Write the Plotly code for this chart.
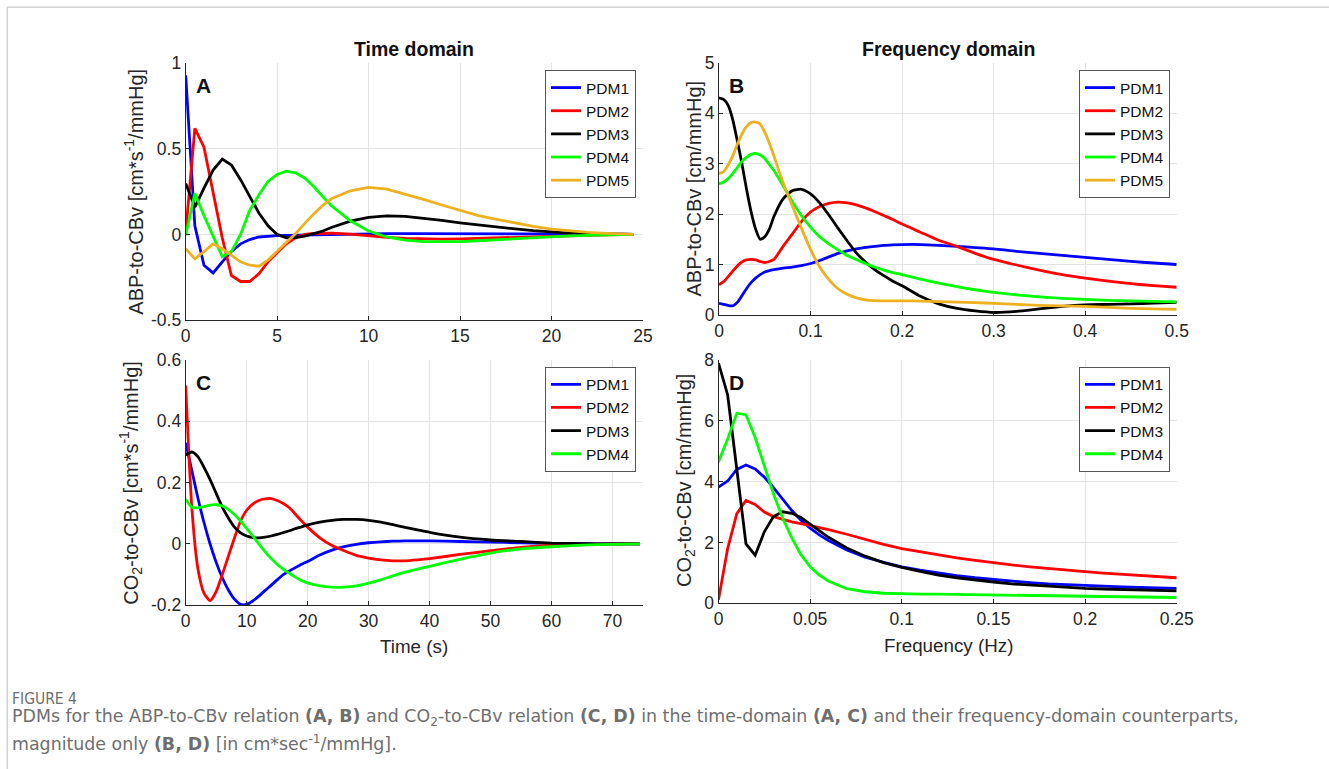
import plotly.graph_objects as go

W, H = 1329, 769

# ---------------- data ----------------
t_A = [0, 0.5, 1, 1.5, 2, 2.5, 3, 3.5, 4, 4.5, 5, 5.5, 6, 6.5, 7, 7.5, 8,
       9, 10, 11, 12, 13, 14, 15, 16, 17, 18, 19, 20, 21, 22, 23, 24, 24.5]
A_PDM1 = [0.93, 0.05, -0.18, -0.225, -0.16, -0.1, -0.055, -0.03, -0.015, -0.01, -0.007, -0.005, -0.004, -0.002, 0.0, 0.001, 0.002,
          0.003, 0.004, 0.005, 0.005, 0.005, 0.005, 0.005, 0.005, 0.004, 0.004, 0.003, 0.003, 0.002, 0.002, 0.001, 0.001, 0.0]
A_PDM2 = [0.01, 0.62, 0.51, 0.24, -0.02, -0.24, -0.275, -0.275, -0.23, -0.16, -0.11, -0.055, -0.02, 0.0, 0.006, 0.008, 0.008,
          0.002, -0.008, -0.017, -0.023, -0.026, -0.027, -0.026, -0.023, -0.019, -0.015, -0.011, -0.008, -0.005, -0.003, -0.002, -0.001, 0.0]
A_PDM3 = [0.298, 0.16, 0.27, 0.376, 0.44, 0.405, 0.32, 0.22, 0.125, 0.05, 0.0, -0.02, -0.018, -0.01, 0.003, 0.02, 0.042,
          0.078, 0.1, 0.108, 0.105, 0.095, 0.082, 0.068, 0.055, 0.043, 0.032, 0.022, 0.014, 0.008, 0.005, 0.002, 0.001, 0.0]
A_PDM4 = [-0.005, 0.24, 0.11, -0.01, -0.13, -0.1, 0.0, 0.14, 0.23, 0.31, 0.35, 0.37, 0.36, 0.33, 0.28, 0.22, 0.165,
          0.08, 0.02, -0.015, -0.033, -0.042, -0.044, -0.042, -0.037, -0.031, -0.024, -0.018, -0.012, -0.008, -0.005, -0.003, -0.001, 0.0]
A_PDM5 = [-0.084, -0.143, -0.1, -0.055, -0.084, -0.12, -0.16, -0.18, -0.186, -0.15, -0.1, -0.045, 0.004, 0.063, 0.12, 0.17, 0.21,
          0.255, 0.275, 0.265, 0.237, 0.205, 0.172, 0.14, 0.11, 0.088, 0.067, 0.047, 0.031, 0.02, 0.012, 0.006, 0.002, 0.0]

f_B = [0, 0.005, 0.01, 0.015, 0.02, 0.025, 0.03, 0.035, 0.04, 0.045, 0.05, 0.055, 0.06,
       0.07, 0.08, 0.09, 0.1, 0.11, 0.12, 0.13, 0.14, 0.15, 0.16, 0.17, 0.18, 0.19, 0.2,
       0.22, 0.24, 0.26, 0.28, 0.3, 0.325, 0.35, 0.375, 0.4, 0.425, 0.45, 0.475, 0.5]
B_PDM1 = [0.23, 0.21, 0.19, 0.18, 0.25, 0.38, 0.52, 0.64, 0.73, 0.8, 0.85, 0.88, 0.9,
          0.93, 0.95, 0.98, 1.02, 1.08, 1.15, 1.22, 1.27, 1.31, 1.34, 1.36, 1.38, 1.39, 1.395,
          1.395, 1.38, 1.36, 1.335, 1.31, 1.26, 1.22, 1.18, 1.14, 1.1, 1.06, 1.03, 1.0]
B_PDM2 = [0.6, 0.66, 0.76, 0.87, 0.97, 1.05, 1.09, 1.1, 1.09, 1.06, 1.04, 1.06, 1.1,
          1.36, 1.6, 1.85, 2.04, 2.15, 2.21, 2.235, 2.22, 2.18, 2.12, 2.05, 1.97, 1.89, 1.8,
          1.64, 1.48, 1.36, 1.22, 1.1, 0.99, 0.89, 0.8, 0.73, 0.67, 0.62, 0.58, 0.55]
B_PDM3 = [4.3, 4.27, 4.15, 3.87, 3.45, 3.0, 2.5, 2.05, 1.7, 1.5, 1.55, 1.7, 1.95,
          2.3, 2.46, 2.49, 2.4, 2.22, 1.98, 1.72, 1.47, 1.23, 1.05, 0.9, 0.78, 0.67, 0.58,
          0.37, 0.22, 0.13, 0.08, 0.05, 0.07, 0.12, 0.17, 0.2, 0.21, 0.22, 0.235, 0.25]
B_PDM4 = [2.6, 2.63, 2.7, 2.8, 2.92, 3.04, 3.12, 3.18, 3.2, 3.17, 3.1, 2.98, 2.86,
          2.56, 2.25, 1.97, 1.74, 1.55, 1.41, 1.29, 1.18, 1.1, 1.02, 0.95, 0.89, 0.84, 0.8,
          0.71, 0.63, 0.56, 0.5, 0.45, 0.4, 0.36, 0.33, 0.31, 0.29, 0.28, 0.27, 0.26]
B_PDM5 = [2.8, 2.84, 2.97, 3.15, 3.38, 3.58, 3.73, 3.81, 3.82, 3.78, 3.62, 3.4, 3.15,
          2.62, 2.17, 1.72, 1.3, 0.95, 0.7, 0.52, 0.41, 0.34, 0.3, 0.285, 0.28, 0.28, 0.28,
          0.275, 0.265, 0.255, 0.245, 0.23, 0.21, 0.19, 0.18, 0.17, 0.15, 0.13, 0.12, 0.11]

t_C = [0, 1, 2, 3, 4, 5, 6, 7, 8, 9, 10, 11, 12, 13, 14, 15, 16, 17, 18, 19, 20,
       22, 24, 26, 28, 30, 32, 34, 36, 38, 40, 45, 50, 55, 60, 65, 70, 74.5]
C_PDM1 = [0.33, 0.24, 0.15, 0.07, 0.0, -0.06, -0.11, -0.15, -0.18, -0.197, -0.197, -0.186, -0.17, -0.152, -0.135, -0.117, -0.1, -0.088, -0.077, -0.066, -0.057,
          -0.036, -0.02, -0.009, -0.001, 0.004, 0.007, 0.009, 0.01, 0.01, 0.01, 0.008, 0.006, 0.004, 0.002, 0.001, 0.0, 0.0]
C_PDM2 = [0.517, 0.12, -0.08, -0.16, -0.185, -0.155, -0.1, -0.04, 0.02, 0.075, 0.11, 0.13, 0.142, 0.147, 0.148, 0.142, 0.132, 0.118, 0.097, 0.075, 0.055,
          0.02, -0.005, -0.022, -0.037, -0.046, -0.052, -0.055, -0.055, -0.052, -0.048, -0.034, -0.022, -0.011, -0.004, -0.001, 0.0, 0.0]
C_PDM3 = [0.29, 0.3, 0.285, 0.25, 0.21, 0.165, 0.12, 0.085, 0.055, 0.036, 0.026, 0.021, 0.02, 0.022, 0.026, 0.031, 0.037, 0.043, 0.05, 0.056, 0.062,
          0.071, 0.077, 0.08, 0.08, 0.077, 0.071, 0.063, 0.054, 0.046, 0.038, 0.022, 0.013, 0.008, 0.003, 0.001, 0.0, 0.0]
C_PDM4 = [0.146, 0.12, 0.118, 0.122, 0.127, 0.128, 0.124, 0.113, 0.096, 0.075, 0.051, 0.026, 0.0, -0.025, -0.047, -0.066, -0.082, -0.096, -0.108, -0.119, -0.127,
          -0.137, -0.141, -0.141, -0.137, -0.128, -0.117, -0.104, -0.092, -0.082, -0.073, -0.05, -0.03, -0.016, -0.009, -0.004, -0.001, 0.0]

f_D = [0, 0.005, 0.01, 0.015, 0.02, 0.025, 0.03, 0.035, 0.04, 0.045, 0.05, 0.055, 0.06,
       0.07, 0.08, 0.09, 0.1, 0.11, 0.12, 0.13, 0.14, 0.15, 0.16, 0.17, 0.18, 0.19, 0.2,
       0.21, 0.22, 0.23, 0.24, 0.25]
D_PDM1 = [3.82, 4.02, 4.4, 4.55, 4.42, 4.15, 3.8, 3.42, 3.05, 2.73, 2.47, 2.25, 2.06,
          1.75, 1.52, 1.35, 1.2, 1.09, 0.99, 0.91, 0.84, 0.78, 0.72, 0.68, 0.64, 0.61, 0.58,
          0.56, 0.54, 0.52, 0.505, 0.49]
D_PDM2 = [0.12, 1.8, 2.95, 3.38, 3.25, 3.0, 2.85, 2.76, 2.68, 2.62, 2.56, 2.48, 2.42,
          2.27, 2.1, 1.94, 1.8, 1.69, 1.59, 1.49, 1.41, 1.33, 1.26, 1.2, 1.14, 1.09, 1.04,
          0.99, 0.95, 0.91, 0.87, 0.84]
D_PDM3 = [7.9, 6.85, 4.4, 1.95, 1.58, 2.35, 2.85, 3.01, 2.96, 2.82, 2.6, 2.38, 2.17,
          1.82, 1.55, 1.34, 1.18, 1.05, 0.93, 0.84, 0.76, 0.7, 0.64, 0.6, 0.56, 0.52, 0.49,
          0.47, 0.45, 0.43, 0.42, 0.41]
D_PDM4 = [4.65, 5.4, 6.25, 6.2, 5.45, 4.5, 3.6, 2.8, 2.15, 1.6, 1.2, 0.93, 0.73,
          0.48, 0.38, 0.33, 0.31, 0.3, 0.3, 0.29, 0.28, 0.27, 0.26, 0.25, 0.24, 0.23, 0.22,
          0.21, 0.21, 0.2, 0.19, 0.19]

names = ["PDM1", "PDM2", "PDM3", "PDM4", "PDM5"]
colors = ["#0000ff", "#ff0000", "#000000", "#00ff00", "#edb120"]

A_ticks = [-0.5, 0, 0.5, 1]
A_ticktext = ["-0.5", "0", "0.5", "1"]
C_ticks = [-0.2, 0, 0.2, 0.4, 0.6]
C_ticktext = ["-0.2", "0", "0.2", "0.4", "0.6"]

# ---------------- helpers ----------------
def pxx(x):
    return x / W

def pxy(y):
    return 1 - y / H

FONT = "Liberation Sans, Arial, Helvetica, sans-serif"
AXC = "#262626"
GRID = "#e3e3e3"

fig = go.Figure()

panels = [
    ("x", "y", "legend", t_A, [A_PDM1, A_PDM2, A_PDM3, A_PDM4, A_PDM5], "linear"),
    ("x2", "y2", "legend2", f_B, [B_PDM1, B_PDM2, B_PDM3, B_PDM4, B_PDM5], "spline"),
    ("x3", "y3", "legend3", t_C, [C_PDM1, C_PDM2, C_PDM3, C_PDM4], "spline"),
    ("x4", "y4", "legend4", f_D, [D_PDM1, D_PDM2, D_PDM3, D_PDM4], "linear"),
]
for xa, ya, lg, xs, series, shape in panels:
    for i, ys in enumerate(series):
        fig.add_trace(go.Scatter(
            x=xs, y=ys, mode="lines", name=names[i],
            line=dict(color=colors[i], width=2.8, shape=shape, smoothing=0.6),
            xaxis=xa, yaxis=ya, legend=lg,
        ))

TICKFONT = dict(family=FONT, size=17.5, color=AXC)

def xaxis(domain, rng, tickvals, ticktext=None):
    d = dict(domain=[pxx(domain[0]), pxx(domain[1])], range=rng,
             tickvals=tickvals, showgrid=True, gridcolor=GRID, gridwidth=1,
             zeroline=False, showline=True, linecolor=AXC, linewidth=1,
             ticks="inside", ticklen=4, tickcolor=AXC, tickfont=TICKFONT)
    if ticktext:
        d["ticktext"] = ticktext
    return d

def yaxis(domain, rng, tickvals, ticktext=None):
    d = dict(domain=[pxy(domain[1]), pxy(domain[0])], range=rng,
             tickvals=tickvals, showgrid=True, gridcolor=GRID, gridwidth=1,
             zeroline=False, showline=True, linecolor=AXC, linewidth=1,
             ticks="inside", ticklen=4, tickcolor=AXC, tickfont=TICKFONT)
    if ticktext:
        d["ticktext"] = ticktext
    return d

A_X = (185.7, 643.0); A_Y = (63.3, 320.0)
B_X = (719.0, 1176.7); B_Y = (62.5, 315.0)
C_X = (185.7, 643.0); C_Y = (360.0, 605.3)
D_X = (718.5, 1176.7); D_Y = (360.0, 603.3)

layout = dict(
    width=W, height=H, margin=dict(l=0, r=0, t=0, b=0, autoexpand=False),
    paper_bgcolor="white", plot_bgcolor="white",
    font=dict(family=FONT, color=AXC),
    xaxis=xaxis(A_X, [0, 25], [0, 5, 10, 15, 20, 25]),
    yaxis=yaxis(A_Y, [-0.5, 1], A_ticks, A_ticktext),
    xaxis2=xaxis(B_X, [0, 0.5], [0, 0.1, 0.2, 0.3, 0.4, 0.5]),
    yaxis2=yaxis(B_Y, [0, 5], [0, 1, 2, 3, 4, 5]),
    xaxis3=xaxis(C_X, [0, 75], [0, 10, 20, 30, 40, 50, 60, 70]),
    yaxis3=yaxis(C_Y, [-0.2, 0.6], C_ticks, C_ticktext),
    xaxis4=xaxis(D_X, [0, 0.25], [0, 0.05, 0.1, 0.15, 0.2, 0.25]),
    yaxis4=yaxis(D_Y, [0, 8], [0, 2, 4, 6, 8]),
    showlegend=True,
)
layout["xaxis"]["anchor"] = "y"; layout["yaxis"]["anchor"] = "x"
layout["xaxis2"]["anchor"] = "y2"; layout["yaxis2"]["anchor"] = "x2"
layout["xaxis3"]["anchor"] = "y3"; layout["yaxis3"]["anchor"] = "x3"
layout["xaxis4"]["anchor"] = "y4"; layout["yaxis4"]["anchor"] = "x4"

def legend(right, top):
    return dict(x=pxx(right), y=pxy(top), xanchor="right", yanchor="top",
                bgcolor="white", bordercolor="#555555", borderwidth=1,
                font=dict(family=FONT, size=15.5, color="#111111"),
                tracegroupgap=0, itemwidth=30, itemclick=False)

layout["legend"] = legend(636, 70)
layout["legend2"] = legend(1170, 70)
layout["legend3"] = legend(636, 366.7)
layout["legend4"] = legend(1170, 366.7)

fig.update_layout(**layout)

ann = []
def text(x, y, s, size, bold=False, angle=0, xanchor="center", color=AXC, family=FONT):
    ann.append(dict(x=pxx(x), y=pxy(y), xref="paper", yref="paper", text=(f"<b>{s}</b>" if bold else s),
                    showarrow=False, textangle=angle, xanchor=xanchor, yanchor="middle",
                    font=dict(family=family, size=size, color=color)))

# titles
text(414.3, 49.3, "Time domain", 19.5, bold=True, color="#111111")
text(948, 49.3, "Frequency domain", 19.5, bold=True, color="#111111")
# panel letters
text(194, 86, "A", 21, bold=True, xanchor="left", color="#111111")
text(727, 86, "B", 21, bold=True, xanchor="left", color="#111111")
text(194, 382, "C", 21, bold=True, xanchor="left", color="#111111")
text(727, 382, "D", 21, bold=True, xanchor="left", color="#111111")
# y-axis titles
text(134, 191.7, "ABP-to-CBv [cm*s<sup>-1</sup>/mmHg]", 20, angle=-90)
text(693.5, 189, "ABP-to-CBv [cm/mmHg]", 20, angle=-90)
text(131, 482.7, "CO<sub>2</sub>-to-CBv [cm*s<sup>-1</sup>/mmHg]", 20, angle=-90)
text(685, 481, "CO<sub>2</sub>-to-CBv [cm/mmHg]", 20, angle=-90)
# x-axis titles
text(414, 646.5, "Time (s)", 18.8)
text(948, 645, "Frequency (Hz)", 18.8)
# caption
CAP = "DejaVu Sans, Open Sans, sans-serif"
text(10, 699, "FIGURE 4", 15.5, xanchor="left", color="#6e6e6e", family="DejaVu Sans Condensed, DejaVu Sans, sans-serif")
text(10, 717.5, "PDMs for the ABP-to-CBv relation <b>(A, B)</b> and CO<sub>2</sub>-to-CBv relation <b>(C, D)</b> in the time-domain <b>(A, C)</b> and their frequency-domain counterparts,",
     17.4, xanchor="left", color="#6e6e6e", family=CAP)
text(10, 742.5, "magnitude only <b>(B, D)</b> [in cm*sec<sup>-1</sup>/mmHg].",
     17.4, xanchor="left", color="#6e6e6e", family=CAP)

fig.update_layout(annotations=ann)

# page frame
fig.update_layout(shapes=[dict(type="rect", xref="paper", yref="paper",
                               x0=pxx(7.3), x1=1.05, y0=-0.05, y1=pxy(7.3),
                               line=dict(color="#d2d2d2", width=1.5), layer="below")])

fig.write_html("out.html", config={"displayModeBar": False},
               post_script="document.body.style.margin='0';document.body.style.overflow='hidden';")
